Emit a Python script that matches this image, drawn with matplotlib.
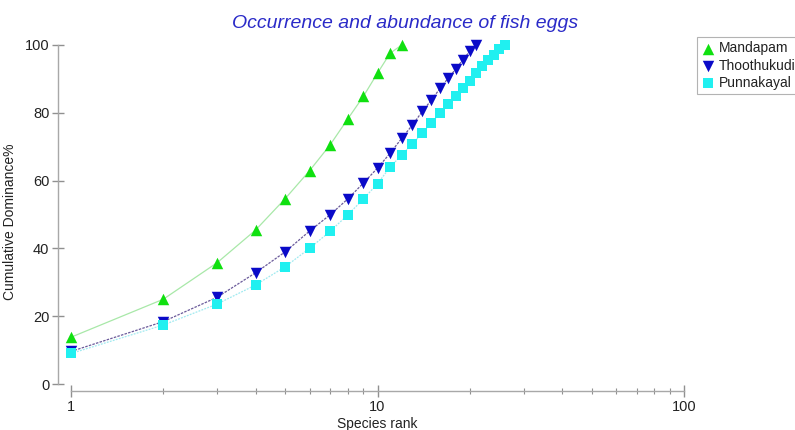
import matplotlib
matplotlib.use("Agg")
import matplotlib.pyplot as plt
from matplotlib.ticker import LogLocator, FixedLocator, NullFormatter, FixedFormatter

plt.rcParams['font.family'] = ['Liberation Sans', 'DejaVu Sans']

mandapam = [13.8, 25.0, 35.8, 45.4, 54.7, 62.9, 70.5, 78.2, 84.9, 91.7, 97.6, 100.0]
thoothukudi = [9.6, 18.4, 25.6, 32.8, 39.0, 45.1, 49.9, 54.6, 59.3, 63.7, 68.1, 72.5,
               76.4, 80.4, 83.8, 87.2, 90.2, 92.9, 95.7, 98.1, 100.0]
punnakayal = [9.0, 17.4, 23.6, 29.2, 34.6, 40.0, 45.0, 49.9, 54.6, 59.1, 64.0, 67.6,
              70.8, 74.0, 77.0, 80.0, 82.6, 85.0, 87.3, 89.5, 91.7, 93.7, 95.5, 97.1,
              98.8, 100.0]
series_names = ["Mandapam", "Thoothukudi", "Punnakayal"]
x_ticks = [1, 10, 100]
x_ticklabels = ["1", "10", "100"]
y_ticks = [0, 20, 40, 60, 80, 100]

fig = plt.figure(figsize=(7.95, 4.3), dpi=100)
ax = fig.add_axes([71/795, 1 - 384/430, 613/795, 339/430])

green = "#10e010"
blue = "#0a0ac8"
cyan = "#20f0f0"

def ranks(v):
    return list(range(1, len(v) + 1))

ax.plot(ranks(mandapam), mandapam, color="#a8e8a8", lw=0.9, zorder=2, clip_on=False)
ax.plot(ranks(thoothukudi), thoothukudi, color="#6a5a9a", lw=0.9, ls=(0, (2, 1)), zorder=2, clip_on=False)
ax.plot(ranks(punnakayal), punnakayal, color="#a0eaf0", lw=0.9, ls=(0, (1.5, 1)), zorder=2, clip_on=False)

ax.scatter(ranks(mandapam), mandapam, marker="^", s=68, color=green, lw=0, zorder=3, clip_on=False, label=series_names[0])
ax.scatter(ranks(thoothukudi), thoothukudi, marker="v", s=68, color=blue, lw=0, zorder=3, clip_on=False, label=series_names[1])
ax.scatter(ranks(punnakayal), punnakayal, marker="s", s=50, color=cyan, lw=0, zorder=3, clip_on=False, label=series_names[2])

ax.set_xscale("log")
ax.set_xlim(1, 100)
ax.set_ylim(0, 100)

for s in ["top", "right"]:
    ax.spines[s].set_visible(False)
for s in ["left", "bottom"]:
    ax.spines[s].set_color("#a8a8a8")
    ax.spines[s].set_linewidth(1.0)
ax.spines["left"].set_position(("outward", 9.5))
ax.spines["bottom"].set_position(("outward", 5))

ax.xaxis.set_major_locator(FixedLocator(x_ticks))
ax.xaxis.set_major_formatter(FixedFormatter(x_ticklabels))
ax.xaxis.set_minor_locator(LogLocator(base=10, subs=range(2, 10)))
ax.xaxis.set_minor_formatter(NullFormatter())
ax.set_yticks(y_ticks)

ax.tick_params(axis="x", which="major", direction="inout", length=9, width=1, color="#909090",
               labelsize=10.5, labelcolor="#222222", pad=2)
ax.tick_params(axis="x", which="minor", direction="inout", length=5, width=0.8, color="#909090")
ax.tick_params(axis="y", which="major", direction="inout", length=8, width=1, color="#909090",
               labelsize=10.5, labelcolor="#222222", pad=2)

ax.set_xlabel("Species rank", fontsize=10, color="#222222", labelpad=2)
ax.set_ylabel("Cumulative Dominance%", fontsize=10, color="#222222")
ax.yaxis.set_label_coords((17 - 71) / 613, 0.48)

fig.text(405/795, 1 - 23/430, "Occurrence and abundance of fish eggs", ha="center", va="center",
         fontsize=14, style="italic", color="#2a2ac8")

leg = ax.legend(loc="upper left", bbox_to_anchor=(697/795, 1 - 37/430), bbox_transform=fig.transFigure,
                frameon=True, fancybox=False, fontsize=10, handletextpad=0.3, borderpad=0.3,
                labelspacing=0.25, handlelength=1.0, borderaxespad=0, scatterpoints=1, markerscale=1.0)
leg.get_frame().set_edgecolor("#a0a0a0")
leg.get_frame().set_linewidth(0.8)
for t in leg.get_texts():
    t.set_color("#222222")

fig.savefig("out.png", dpi=100)
